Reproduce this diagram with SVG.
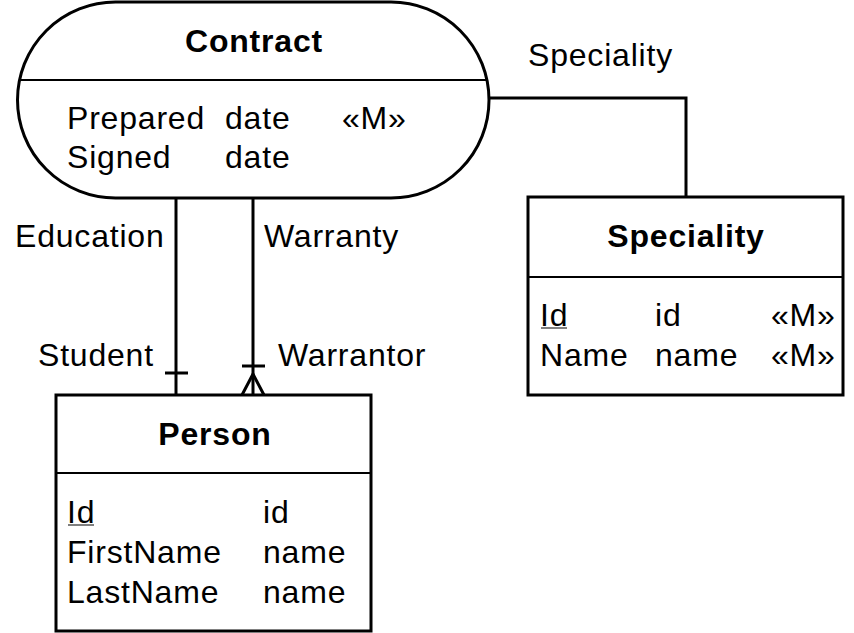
<svg xmlns="http://www.w3.org/2000/svg" width="854" height="633" viewBox="0 0 854 633">
<style>
  text { font-family: "Liberation Sans", Arial, sans-serif; font-size: 32px; letter-spacing: 0.8px; fill: #000; }
  .title { font-weight: bold; text-anchor: middle; }
  .box { fill: #fff; stroke: #000; stroke-width: 3; }
  .div { stroke: #000; stroke-width: 2; fill: none; }
  .conn { stroke: #000; stroke-width: 3; fill: none; }
  .ul { stroke: #555; stroke-width: 1.5; }
</style>
<rect width="854" height="633" fill="#fff"/>
<g id="connectors">
  <path class="conn" d="M489,98 H686 V197"/>
  <path class="conn" d="M176,198 V395"/>
  <path class="conn" d="M165,373 H188"/>
  <path class="conn" d="M253,198 V395"/>
  <path class="conn" d="M242,366 H265"/>
  <path class="conn" d="M242,395 L253,374 L264,395"/>
  <text x="15" y="247">Education</text>
  <text x="264" y="247">Warranty</text>
  <text x="38" y="366">Student</text>
  <text x="278" y="366">Warrantor</text>
  <text x="528" y="66">Speciality</text>
</g>
<g id="contract">
  <rect class="box" x="17.5" y="2" width="471.5" height="196" rx="98" ry="98"/>
  <line class="div" x1="20" y1="80" x2="486.5" y2="80"/>
  <text class="title" x="254" y="52">Contract</text>
  <text x="67" y="129">Prepared</text>
  <text x="225" y="129">date</text>
  <text x="342" y="129">«M»</text>
  <text x="67" y="168">Signed</text>
  <text x="225" y="168">date</text>
</g>
<g id="speciality">
  <rect class="box" x="528" y="197" width="315" height="198"/>
  <line class="div" x1="528" y1="277" x2="843" y2="277"/>
  <text class="title" x="686" y="247">Speciality</text>
  <text x="540" y="326">Id</text>
  <line class="ul" x1="541" y1="328" x2="567" y2="328"/>
  <text x="655" y="326">id</text>
  <text x="771" y="326">«M»</text>
  <text x="540" y="366">Name</text>
  <text x="655" y="366">name</text>
  <text x="771" y="366">«M»</text>
</g>
<g id="person">
  <rect class="box" x="56" y="395" width="315" height="236"/>
  <line class="div" x1="56" y1="473" x2="371" y2="473"/>
  <text class="title" x="215" y="445">Person</text>
  <text x="67" y="523">Id</text>
  <line class="ul" x1="68" y1="525" x2="94" y2="525"/>
  <text x="263" y="523">id</text>
  <text x="67" y="563">FirstName</text>
  <text x="263" y="563">name</text>
  <text x="67" y="603">LastName</text>
  <text x="263" y="603">name</text>
</g>
</svg>
